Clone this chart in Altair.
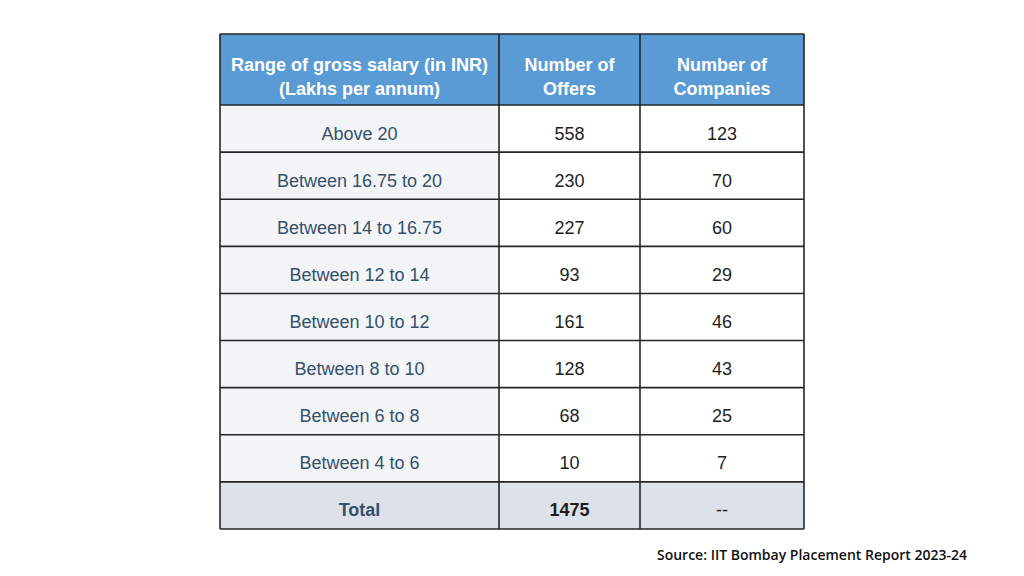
import altair as alt
import pandas as pd

# ---- data ----
header = ["Range of gross salary (in INR)\n(Lakhs per annum)", "Number of\nOffers", "Number of\nCompanies"]
ranges = ["Above 20", "Between 16.75 to 20", "Between 14 to 16.75", "Between 12 to 14",
          "Between 10 to 12", "Between 8 to 10", "Between 6 to 8", "Between 4 to 6"]
offers = [558, 230, 227, 93, 161, 128, 68, 10]
companies = [123, 70, 60, 29, 46, 43, 25, 7]
total_label = "Total"
total_offers = "1475"
total_companies = "--"
source = "Source: IIT Bombay Placement Report 2023-24"

# ---- layout (page pixel coordinates) ----
col_edges = [220, 499, 640, 804]
top, head_bottom, bottom = 34, 105, 529
n_rows = len(ranges) + 1
row_h = (bottom - head_bottom) / n_rows
row_edges = [top, head_bottom] + [head_bottom + row_h * (i + 1) for i in range(n_rows)]

HEAD_BG = "#5b9bd5"
FIRST_BG = "#f3f4f6"
BODY_BG = "#ffffff"
TOTAL_BG = "#dde2ea"
LABEL_COL = "#33506d"
NUM_COL = "#1e1e1e"
LINE_COL = "#262626"

rows = [header]
for r, o, c in zip(ranges, offers, companies):
    rows.append([r, str(o), str(c)])
rows.append([total_label, total_offers, total_companies])

cells = []
for ri, row in enumerate(rows):
    for ci, txt in enumerate(row):
        if ri == 0:
            fill, color, kind = HEAD_BG, "white", "head"
        elif ri == len(rows) - 1:
            fill, color = TOTAL_BG, (LABEL_COL if ci == 0 else NUM_COL)
            kind = "total" if ci < 2 else "body"
        else:
            fill = FIRST_BG if ci == 0 else BODY_BG
            color = LABEL_COL if ci == 0 else NUM_COL
            kind = "body"
        cells.append(dict(x0=col_edges[ci], x1=col_edges[ci + 1],
                          y0=row_edges[ri], y1=row_edges[ri + 1],
                          xc=(col_edges[ci] + col_edges[ci + 1]) / 2,
                          yc=(row_edges[ri] + row_edges[ri + 1]) / 2,
                          text=txt, fill=fill, color=color, kind=kind))
df = pd.DataFrame(cells)

lines = []
for x in col_edges:
    lines.append(dict(x0=x, x1=x, y0=top, y1=bottom))
for y in row_edges:
    lines.append(dict(x0=col_edges[0], x1=col_edges[-1], y0=y, y1=y))
ldf = pd.DataFrame(lines)

W, H = 1008, 560
xs = alt.Scale(domain=[8, 8 + W])
ys = alt.Scale(domain=[8 + H, 8])

base = alt.Chart(df)

rects = base.mark_rect(strokeWidth=0).encode(
    x=alt.X("x0:Q", scale=xs, axis=None), x2="x1:Q",
    y=alt.Y("y0:Q", scale=ys, axis=None), y2="y1:Q",
    fill=alt.Fill("fill:N", scale=None),
)

rules = alt.Chart(ldf).mark_rule(color=LINE_COL, strokeWidth=1.6).encode(
    x=alt.X("x0:Q", scale=xs, axis=None), x2="x1:Q",
    y=alt.Y("y0:Q", scale=ys, axis=None), y2="y1:Q",
)

def text_layer(kind, weight, dy):
    return base.transform_filter(alt.datum.kind == kind).mark_text(
        font="Liberation Sans", fontSize=18, fontWeight=weight,
        lineBreak="\n", lineHeight=24, baseline="middle", align="center", dy=dy,
    ).encode(
        x=alt.X("xc:Q", scale=xs, axis=None),
        y=alt.Y("yc:Q", scale=ys, axis=None),
        text="text:N",
        color=alt.Color("color:N", scale=None),
    )

src_df = pd.DataFrame([dict(x=967, y=556, text=source)])
src = alt.Chart(src_df).mark_text(
    font="Open Sans", fontSize=14, fontWeight=600, align="right", baseline="middle", color="#111111"
).encode(
    x=alt.X("x:Q", scale=xs, axis=None),
    y=alt.Y("y:Q", scale=ys, axis=None),
    text="text:N",
)

chart = alt.layer(
    rects, rules, text_layer("head", "bold", -4), text_layer("body", "normal", 6),
    text_layer("total", "bold", 6), src
).properties(
    width=W, height=H, padding=0, autosize=alt.AutoSizeParams(type="none"), background="white"
).configure_view(stroke=None)

chart.save("out.html", embed_options={"renderer": "svg", "actions": False})
